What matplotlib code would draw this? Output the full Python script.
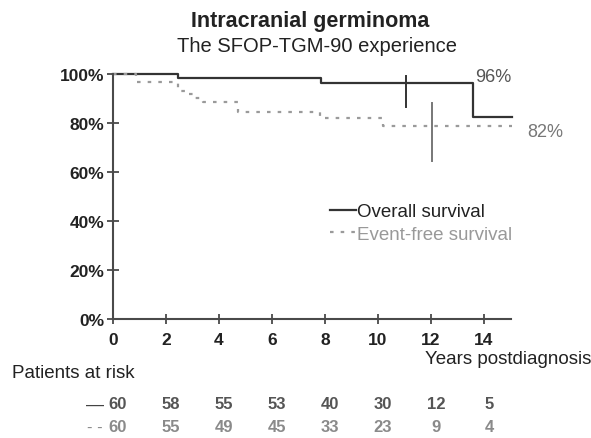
import matplotlib
matplotlib.use("Agg")
import matplotlib.pyplot as plt
import matplotlib.transforms as mtransforms

plt.rcParams['font.family'] = ['Liberation Sans', 'DejaVu Sans']

# Data
os_times = [0, 2.45, 7.85, 13.6, 15.05]
os_values = [100, 98.4, 96.2, 82.6, 82.6]
efs_times = [0, 0.87, 2.45, 2.83, 3.1, 3.4, 4.7, 7.8, 10.2, 15.05]
efs_values = [100, 96.9, 93.2, 91.8, 90.1, 88.4, 84.5, 81.9, 78.9, 78.9]
os_censor_x = 11.05
os_censor_y = (86.5, 99.2)
efs_censor_x = 12.04
efs_censor_y = (64.5, 88.2)
x_ticks = [0, 2, 4, 6, 8, 10, 12, 14]
y_ticks = [0, 20, 40, 60, 80, 100]
risk_os = [60, 58, 55, 53, 40, 30, 12, 5]
risk_efs = [60, 55, 49, 45, 33, 23, 9, 4]
os_label = "96%"
efs_label = "82%"

OS_COL = "#333333"
EFS_COL = "#9a9a9a"

W, H = 591, 439
fig = plt.figure(figsize=(W/100, H/100), dpi=100)
x0, x15, ytop, ybot = 113, 510.5, 75, 320
ax = fig.add_axes([x0/W, 1-ybot/H, (x15-x0)/W, (ybot-ytop)/H])

ax.step(os_times, os_values, where='post', color=OS_COL, lw=1.6, label='Overall survival', clip_on=False)
ax.step(efs_times, efs_values, where='post', color=EFS_COL, lw=1.6, ls=(0, (1.6, 3.2)),
        label='Event-free survival', clip_on=False)
ax.plot([os_censor_x, os_censor_x], os_censor_y, color=OS_COL, lw=1.4)
ax.plot([efs_censor_x, efs_censor_x], efs_censor_y, color="#777777", lw=1.4)

ax.set_xlim(0, 15)
ax.set_ylim(0, 100)
for s in ['top', 'right']:
    ax.spines[s].set_visible(False)
for s in ['left', 'bottom']:
    ax.spines[s].set_color('#4a4a4a')
    ax.spines[s].set_linewidth(1.5)
ax.set_xticks(x_ticks)
ax.set_yticks(y_ticks)
ax.set_xticklabels([str(t) for t in x_ticks], fontweight='bold', fontsize=12.5, color='#222222')
ax.set_yticklabels([f"{t}%" for t in y_ticks], fontweight='bold', fontsize=12.5, color='#222222')
ax.tick_params(axis='y', direction='inout', length=8.5, width=1.3, color='#4a4a4a', pad=2)
ax.tick_params(axis='x', direction='inout', length=7, width=1.3, color='#4a4a4a', pad=6)

ax.text(15.05, 98.8, os_label, color='#555555', fontsize=13, ha='right', va='center')
ax.text(15.65, 76.5, efs_label, color='#777777', fontsize=13, ha='left', va='center')

leg = ax.legend(loc='center left', bbox_to_anchor=((330-x0)/(x15-x0), 1-(224-ytop)/(ybot-ytop)),
                frameon=False, handlelength=1.4, handletextpad=0.05, fontsize=13.5,
                labelspacing=0.3, borderaxespad=0, borderpad=0)
leg.get_texts()[0].set_color('#222222')
leg.get_texts()[1].set_color('#999999')

fig.text(310/W, 1-22/H, "Intracranial germinoma", ha='center', va='center',
         fontsize=15.5, fontweight='bold', color='#222222')
fig.text(317/W, 1-47/H, "The SFOP-TGM-90 experience", ha='center', va='center',
         fontsize=14.5, color='#222222')
fig.text(591/W, 1-360/H, "Years postdiagnosis", ha='right', va='center',
         fontsize=13.5, color='#222222')
fig.text(12/W, 1-373/H, "Patients at risk", ha='left', va='center',
         fontsize=13.5, color='#222222')

trans = mtransforms.blended_transform_factory(ax.transData, fig.transFigure)
shift = mtransforms.ScaledTranslation(5/100, 0, fig.dpi_scale_trans)
for t, a, b in zip(x_ticks, risk_os, risk_efs):
    ax.text(t, 1-405/H, str(a), transform=trans + shift, ha='center', va='center',
            fontsize=12, fontweight='bold', color='#555555')
    ax.text(t, 1-428/H, str(b), transform=trans + shift, ha='center', va='center',
            fontsize=12, fontweight='bold', color='#8a8a8a')
fig.text(104/W, 1-405/H, "\u2014", ha='right', va='center', fontsize=13, color='#444444')
fig.text(103/W, 1-428/H, "- -", ha='right', va='center', fontsize=12, color='#888888')

fig.savefig("out.png", dpi=100)
